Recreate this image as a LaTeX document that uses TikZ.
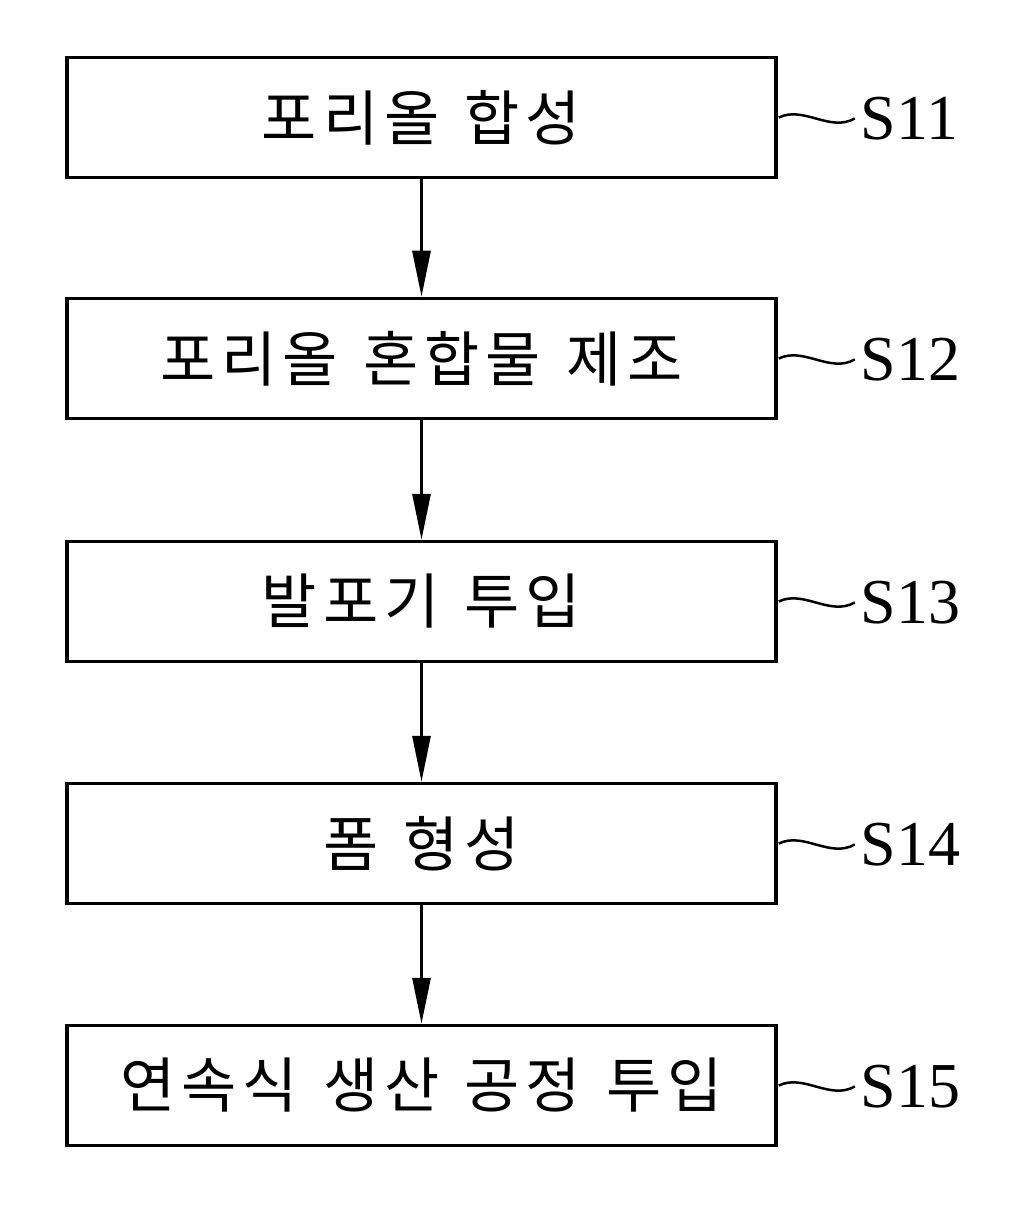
\documentclass[tikz,border=0pt]{standalone}
\usepackage{fontspec}
\newfontfamily\kr[LetterSpace=10,WordSpace=1.3]{Noto Sans CJK KR}
\setmainfont{Liberation Serif}
\usetikzlibrary{arrows.meta}
\begin{document}
\begin{tikzpicture}[x=1pt,y=-1pt,
  stepbox/.style={draw,line width=3.5pt,minimum width=709pt,minimum height=120pt,inner sep=0pt,font=\kr\fontsize{60}{66}\selectfont},
  lab/.style={anchor=west,inner sep=0pt,font=\fontsize{64}{70}\selectfont},
  flow/.style={line width=3pt,-{Triangle[width=18pt,length=46pt]}},
  squig/.style={line width=2.5pt}]
\useasboundingbox (0,0) rectangle (1009,1222);
\node[stepbox] (b1) at (421.5,117.5) {포리올 합성};
\node[stepbox] (b2) at (421.5,358.5) {포리올 혼합물 제조};
\node[stepbox] (b3) at (421.5,601.5) {발포기 투입};
\node[stepbox] (b4) at (421.5,843.5) {폼 형성};
\node[stepbox] (b5) at (421.5,1085.5) {연속식 생산 공정 투입};
\foreach \a/\b in {b1/b2,b2/b3,b3/b4,b4/b5}
  \draw[flow] (\a.south) -- (\b.north);
\foreach \b/\t in {b1/S11,b2/S12,b3/S13,b4/S14,b5/S15}{
  \coordinate (\b e) at ([xshift=77pt,yshift=-1pt]\b.east);
  \node[lab] (\b l) at ([xshift=6pt]\b e) {\t};
  \draw[squig] ([xshift=1pt]\b.east) .. controls +(25,-12) and +(-25,14) .. (\b e);
}
\end{tikzpicture}
\end{document}
